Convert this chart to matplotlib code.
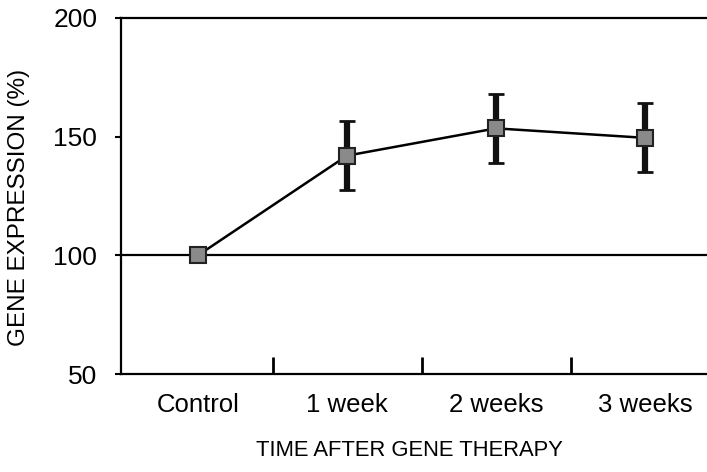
import matplotlib
matplotlib.use("Agg")
import matplotlib.pyplot as plt
import numpy as np

# Gene expression relative to control (%)
CATEGORIES = ["Control", "1 week", "2 weeks", "3 weeks"]
EXPRESSION = [100.0, 142.0, 153.5, 149.5]
ERRORS = [0.0, 14.5, 14.5, 14.5]
Y_TICKS = [50, 100, 150, 200]

plt.rcParams["font.family"] = ["Liberation Sans", "DejaVu Sans"]

fig = plt.figure(figsize=(7.07, 4.72), dpi=100)
ax = fig.add_axes([0.1711, 0.2076, 0.8289, 0.7543])

x = np.arange(len(CATEGORIES))

# reference line at 100 %
ax.axhline(100, color="black", lw=1.6, zorder=1)

ax.plot(x, EXPRESSION, color="black", lw=1.8, zorder=2)
ax.errorbar(x[1:], EXPRESSION[1:], yerr=ERRORS[1:], fmt="none",
            ecolor="#111111", elinewidth=4.5, capsize=5.5, capthick=2, zorder=3)
ax.plot(x, EXPRESSION, ls="none", marker="s", ms=11.5,
        mfc="#8a8a8a", mec="#222222", mew=1.5, zorder=4)

ax.set_xlim(-0.517, 3.416)
ax.set_ylim(50, 200)
ax.set_yticks(Y_TICKS)
ax.tick_params(axis="y", direction="out", length=4, width=1.5,
               labelsize=19, pad=13)

ax.set_xticks(x)
ax.set_xticklabels(CATEGORIES)
ax.tick_params(axis="x", which="major", length=0, labelsize=18.5, pad=14)
ax.set_xticks(x[:-1] + 0.5, minor=True)
ax.tick_params(axis="x", which="minor", direction="in", length=12, width=2)

for side in ["left", "top", "bottom"]:
    ax.spines[side].set_linewidth(1.6)
ax.spines["right"].set_visible(False)

ax.set_ylabel("GENE EXPRESSION (%)", fontsize=17.5)
ax.yaxis.set_label_coords(-0.155, 0.469)
ax.set_xlabel("TIME AFTER GENE THERAPY", fontsize=15.8)
ax.xaxis.set_label_coords(0.493, -0.185)

fig.savefig("out.png", dpi=100)
